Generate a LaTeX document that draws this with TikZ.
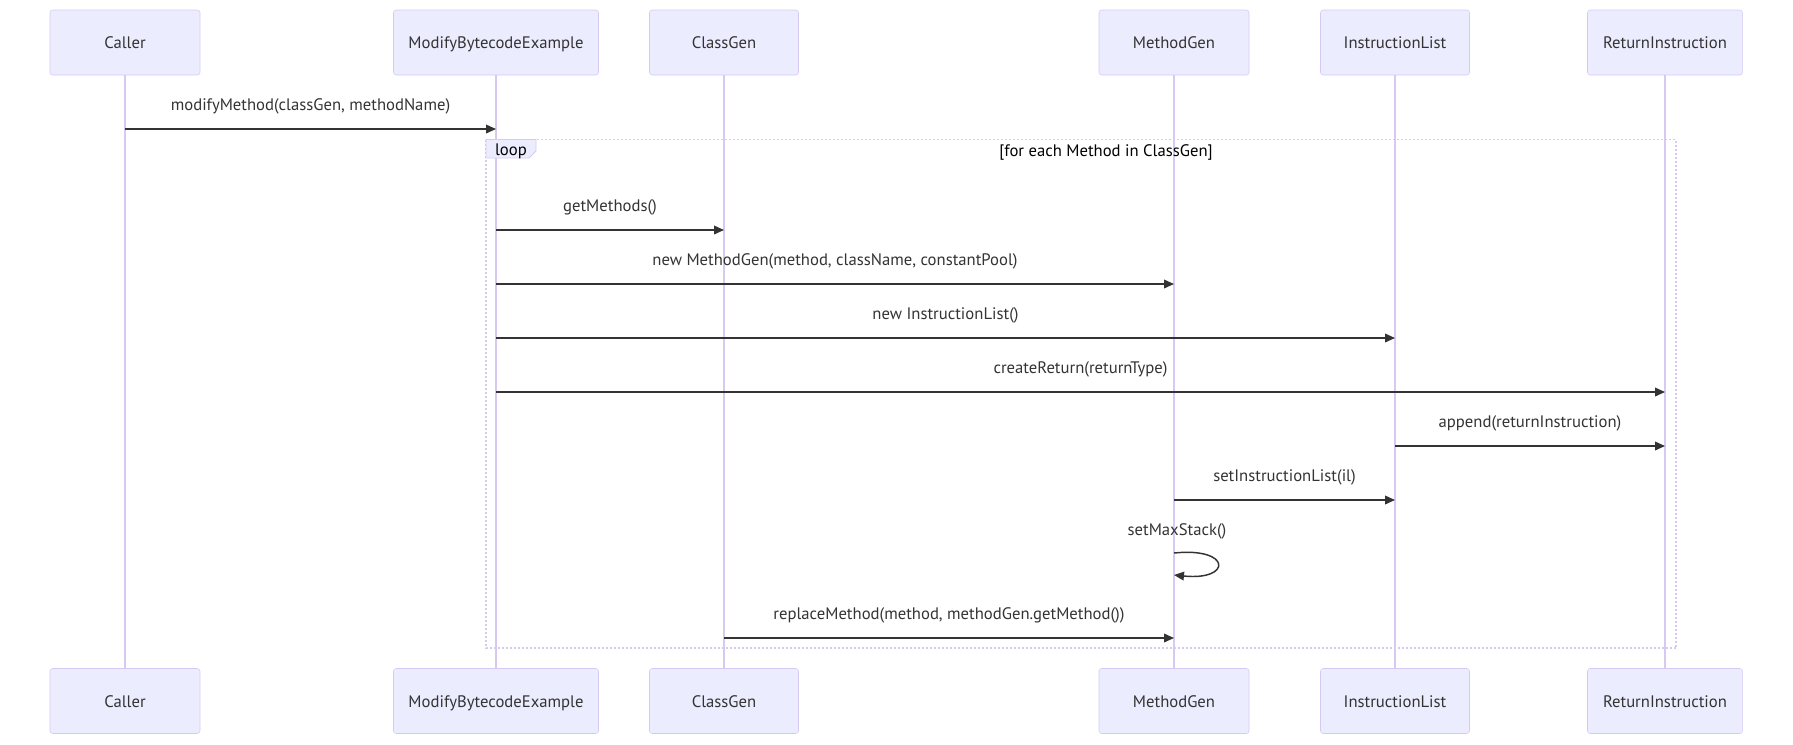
\documentclass[tikz,border=0pt]{standalone}
\usepackage{fontspec}
\setmainfont{PT Sans}
\usetikzlibrary{arrows.meta}
\definecolor{actorfill}{HTML}{ECECFF}
\definecolor{actorline}{HTML}{D6C9F2}
\definecolor{ink}{HTML}{333333}
\tikzset{
  actor/.style = {draw = actorline, fill = actorfill, rounded corners = 2pt,
    minimum height = 48.75pt, text = ink, text height = 9pt, text depth = 0pt,
    font = \fontsize{12.5}{14}\selectfont},
  life/.style = {draw = actorline, line width = 1pt},
  msg/.style = {draw = ink, line width = 1.1pt,
    -{Triangle[length = 7.5pt, width = 6.5pt]}},
  lbl/.style = {text = ink, font = \fontsize{12.5}{14}\selectfont},
}
\begin{document}
\begin{tikzpicture}[x = .75pt, y = -.75pt]
  \useasboundingbox (0,0) rectangle (1793,744);
  % actors and lifelines
  \foreach \n/\x/\w/\t in {caller/125/150/Caller, mod/496/205/ModifyBytecodeExample,
      cg/724/149/ClassGen, mg/1174/150/MethodGen, il/1395/149/InstructionList,
      ri/1665/155/ReturnInstruction} {
    \node [actor, minimum width = \w*.75pt] (\n) at (\x,42.5) {\t};
    \node [actor, minimum width = \w*.75pt] (\n b) at (\x,701) {\t};
    \draw [life] (\n) -- (\n b);
  }
  % loop frame
  \draw [actorline, line width = 1.2pt, dash pattern = on 1.5pt off 1.5pt]
    (486,139.5) rectangle (1676,648);
  \draw [actorline, fill = actorfill, line width = .6pt]
    (486,139.5) -- (536,139.5) -- (536,151) -- (529,158) -- (486,158) -- cycle;
  \node [lbl, text = black] (looplbl) at (511,151.5) {loop};
  \node [lbl, text = black] (cond) at (1106,152.5) {[for each Method in ClassGen]};
  % messages
  \draw [msg] (caller |- 0,129) -- (mod |- 0,129)
    node [lbl, midway, above = 7.5pt] (m1) {modifyMethod(classGen, methodName)};
  \draw [msg] (mod |- 0,230) -- (cg |- 0,230)
    node [lbl, midway, above = 7.5pt] (m2) {getMethods()};
  \draw [msg] (mod |- 0,284) -- (mg |- 0,284)
    node [lbl, midway, above = 7.5pt] (m3) {new MethodGen(method, className, constantPool)};
  \draw [msg] (mod |- 0,338) -- (il |- 0,338)
    node [lbl, midway, above = 7.5pt] (m4) {new InstructionList()};
  \draw [msg] (mod |- 0,392) -- (ri |- 0,392)
    node [lbl, midway, above = 7.5pt] (m5) {createReturn(returnType)};
  \draw [msg] (il |- 0,446) -- (ri |- 0,446)
    node [lbl, midway, above = 7.5pt] (m6) {append(returnInstruction)};
  \draw [msg] (mg |- 0,500) -- (il |- 0,500)
    node [lbl, midway, above = 7.5pt] (m7) {setInstructionList(il)};
  \node [lbl] (m8) at (1177,531) {setMaxStack()};
  \draw [msg] (mg |- 0,553) .. controls (1232,547) and (1232,581) .. (mg |- 0,575);
  \draw [msg] (cg |- 0,638) -- (mg |- 0,638)
    node [lbl, midway, above = 7.5pt] (m9) {replaceMethod(method, methodGen.getMethod())};
\end{tikzpicture}
\end{document}
